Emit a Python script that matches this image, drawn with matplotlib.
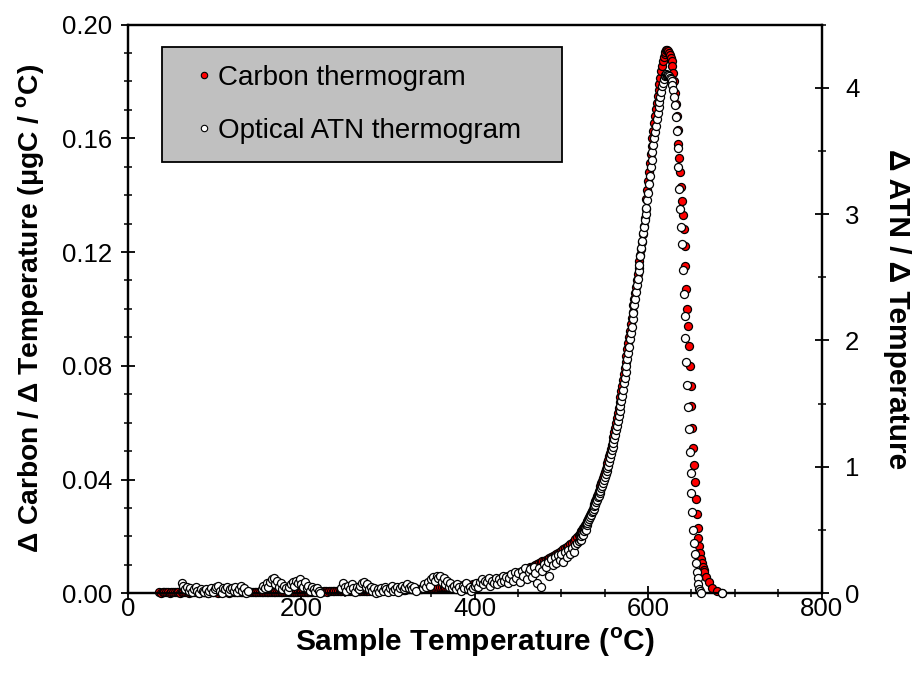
import matplotlib
matplotlib.use("Agg")
import matplotlib.pyplot as plt
from matplotlib.ticker import MultipleLocator, FormatStrFormatter
from matplotlib.lines import Line2D

nan = float("nan")

# sample temperature (C) - low part, every 2 C
temp_low = [
    36, 38, 40, 42, 44, 46, 48, 50, 52, 54, 56, 58, 60, 62, 64, 66, 68, 70, 72, 74,
    76, 78, 80, 82, 84, 86, 88, 90, 92, 94, 96, 98, 100, 102, 104, 106, 108, 110, 112, 114,
    116, 118, 120, 122, 124, 126, 128, 130, 132, 134, 136, 138, 140, 142, 144, 146, 148, 150, 152, 154,
    156, 158, 160, 162, 164, 166, 168, 170, 172, 174, 176, 178, 180, 182, 184, 186, 188, 190, 192, 194,
    196, 198, 200, 202, 204, 206, 208, 210, 212, 214, 216, 218, 220, 222, 224, 226, 228, 230, 232, 234,
    236, 238, 240, 242, 244, 246, 248, 250, 252, 254, 256, 258, 260, 262, 264, 266, 268, 270, 272, 274,
    276, 278, 280, 282, 284, 286, 288, 290, 292, 294, 296, 298, 300, 302, 304, 306, 308, 310, 312, 314,
    316, 318, 320, 322, 324, 326, 328, 330, 332, 334, 336, 338, 340, 342, 344, 346, 348, 350, 352, 354,
    356, 358, 360, 362, 364, 366, 368, 370, 372, 374, 376, 378, 380, 382, 384, 386, 388, 390, 392, 394,
    396, 398, 400, 402, 404, 406, 408, 410, 412, 414, 416, 418, 420, 422, 424, 426, 428, 430, 432, 434,
    436, 438, 440, 442, 444, 446, 448, 450, 452, 454, 456, 458, 460, 462, 464, 466, 468, 470, 472, 474,
    476, 478, 480, 482, 484, 486, 488, 490, 492, 494, 496, 498, 500, 502, 504, 506, 508, 510, 512, 514,
    516, 518,
]

# carbon thermogram (ugC / C), left axis
carbon_low = [
    0.0003, 0.0002, 0.0003, 0.0003, 0.0004, 0.0003, 0.0002, 0.0003, 0.0003, 0.0004, 0.0003, 0.0003, 0.0002, 0.0003, 0.0004, 0.0003, 0.0003, 0.0002, 0.0003, 0.0004,
    0.0003, 0.0003, 0.0003, 0.0002, 0.0003, 0.0004, 0.0003, 0.0003, 0.0002, 0.0003, 0.0004, 0.0003, 0.0003, 0.0003, 0.0002, 0.0003, 0.0004, 0.0003, 0.0003, 0.0003,
    0.0002, 0.0003, 0.0004, 0.0003, 0.0003, 0.0003, 0.0004, 0.0003, 0.0003, 0.0004, 0.0003, 0.0004, 0.0003, 0.0004, 0.0004, 0.0003, 0.0004, 0.0004, 0.0004, 0.0005,
    0.0004, 0.0004, 0.0005, 0.0004, 0.0004, 0.0005, 0.0004, 0.0005, 0.0004, 0.0004, 0.0005, 0.0005, 0.0004, 0.0005, 0.0005, 0.0004, 0.0005, 0.0005, 0.0005, 0.0005,
    0.0005, 0.0005, 0.0006, 0.0005, 0.0006, 0.0006, 0.0005, 0.0006, 0.0006, 0.0006, 0.0007, 0.0006, 0.0006, 0.0007, 0.0006, 0.0007, 0.0007, 0.0006, 0.0007, 0.0007,
    0.0007, 0.0007, 0.0008, 0.0007, 0.0007, 0.0008, 0.0008, 0.0007, 0.0008, 0.0008, 0.0008, 0.0008, 0.0009, 0.0008, 0.0008, 0.0009, 0.0009, 0.0008, 0.0009, 0.0009,
    0.0009, 0.0009, 0.0010, 0.0009, 0.0010, 0.0010, 0.0010, 0.0010, 0.0011, 0.0010, 0.0011, 0.0011, 0.0011, 0.0011, 0.0012, 0.0011, 0.0012, 0.0012, 0.0012, 0.0013,
    0.0013, 0.0013, 0.0013, 0.0014, 0.0014, 0.0014, 0.0015, 0.0015, 0.0015, 0.0016, 0.0016, 0.0016, 0.0017, 0.0017, 0.0018, 0.0018, 0.0018, 0.0019, 0.0019, 0.0020,
    0.0020, 0.0021, 0.0021, 0.0022, 0.0022, 0.0023, 0.0023, 0.0024, 0.0024, 0.0025, 0.0025, 0.0026, 0.0026, 0.0027, 0.0027, 0.0028, 0.0028, 0.0029, 0.0029, 0.0030,
    0.0030, 0.0031, 0.0032, 0.0033, 0.0034, 0.0035, 0.0036, 0.0037, 0.0039, 0.0040, 0.0041, 0.0043, 0.0044, 0.0046, 0.0047, 0.0049, 0.0050, 0.0052, 0.0054, 0.0056,
    0.0058, 0.0060, 0.0062, 0.0064, 0.0066, 0.0068, 0.0071, 0.0073, 0.0075, 0.0078, 0.0080, 0.0083, 0.0086, 0.0089, 0.0091, 0.0094, 0.0097, 0.0100, 0.0103, 0.0106,
    0.0109, 0.0112, 0.0115, 0.0118, 0.0122, 0.0125, 0.0128, 0.0132, 0.0135, 0.0139, 0.0143, 0.0146, 0.0150, 0.0154, 0.0158, 0.0163, 0.0167, 0.0172, 0.0178, 0.0184,
    0.0190, 0.0197,
]

# optical ATN thermogram, right axis (nan = no reading)
optical_low = [
    nan, nan, nan, nan, nan, nan, nan, nan, nan, nan, nan, nan, nan, 0.08, 0.06, 0.03, 0.05, 0.02, 0.04, 0.01,
    0.03, 0.05, 0.02, 0.00, 0.03, 0.02, 0.01, 0.03, 0.00, 0.02, 0.04, 0.01, 0.03, 0.05, 0.06, 0.02, 0.00, 0.04, 0.03, 0.05,
    0.01, 0.03, 0.04, 0.02, 0.05, 0.01, 0.03, 0.06, 0.02, 0.04, 0.00, 0.02, nan, nan, nan, nan, nan, nan, nan, 0.03,
    0.06, 0.04, 0.08, 0.05, 0.09, 0.11, 0.12, 0.07, 0.10, 0.05, 0.08, 0.03, 0.06, 0.04, 0.02, 0.05, 0.07, 0.09, 0.06, 0.10,
    0.08, 0.11, 0.07, 0.05, 0.09, 0.04, 0.06, 0.02, 0.05, 0.03, 0.01, 0.04, 0.02, 0.00, nan, nan, nan, nan, nan, nan,
    nan, nan, nan, nan, nan, 0.04, 0.08, 0.05, 0.02, 0.06, 0.03, 0.07, 0.04, 0.01, 0.05, 0.03, 0.06, 0.08, 0.09, 0.05,
    0.07, 0.03, 0.05, 0.02, 0.04, 0.00, 0.03, 0.01, 0.04, 0.02, 0.05, 0.03, 0.01, 0.04, 0.06, 0.02, 0.03, 0.05, 0.01, 0.04,
    0.06, 0.03, 0.05, 0.07, 0.04, 0.06, 0.03, 0.05, 0.02, nan, nan, nan, 0.04, 0.07, 0.05, 0.09, 0.06, 0.11, 0.13, 0.10,
    0.14, 0.12, 0.14, 0.09, 0.12, 0.07, 0.10, 0.05, 0.08, 0.04, 0.06, 0.03, 0.07, 0.05, 0.02, 0.06, 0.04, 0.08, 0.03, 0.05,
    0.02, 0.04, 0.06, 0.08, 0.05, 0.09, 0.11, 0.07, 0.10, 0.09, 0.12, 0.06, 0.10, 0.08, 0.12, 0.07, 0.11, 0.09, 0.14, 0.10,
    0.13, 0.08, 0.12, 0.15, 0.10, 0.17, 0.12, 0.16, 0.09, 0.18, 0.14, 0.20, 0.11, 0.17, 0.19, 0.13, 0.21, 0.16, 0.08, 0.20,
    0.05, 0.18, 0.23, 0.21, 0.25, 0.14, 0.27, 0.22, 0.29, 0.24, 0.30, 0.26, 0.31, 0.25, 0.33, 0.29, 0.34, 0.31, 0.36, 0.33,
    0.38, 0.40,
]

# high part, every 1 C, plus the tail
temp_high = [
    520, 521, 522, 523, 524, 525, 526, 527, 528, 529, 530, 531, 532, 533, 534, 535, 536, 537, 538, 539,
    540, 541, 542, 543, 544, 545, 546, 547, 548, 549, 550, 551, 552, 553, 554, 555, 556, 557, 558, 559,
    560, 561, 562, 563, 564, 565, 566, 567, 568, 569, 570, 571, 572, 573, 574, 575, 576, 577, 578, 579,
    580, 581, 582, 583, 584, 585, 586, 587, 588, 589, 590, 591, 592, 593, 594, 595, 596, 597, 598, 599,
    600, 601, 602, 603, 604, 605, 606, 607, 608, 609, 610, 611, 612, 613, 614, 615, 616, 617, 618, 619,
    620, 621, 622, 623, 624, 625, 626, 627, 628, 629, 630, 631, 632, 633, 634, 635, 636, 637, 638, 639,
    640, 641, 642, 643, 644, 645, 646, 647, 648, 649, 650, 651, 652, 653, 654, 655, 656, 657, 658, 659,
    660, 661, 662, 663, 664, 665, 667, 670, 674, 679, 685,
]

carbon_high = [
    0.0205, 0.0209, 0.0214, 0.0219, 0.0224, 0.0229, 0.0234, 0.0239, 0.0244, 0.0249, 0.0255, 0.0261, 0.0268, 0.0275, 0.0282, 0.0290, 0.0298, 0.0306, 0.0315, 0.0323,
    0.0332, 0.0341, 0.0350, 0.0359, 0.0368, 0.0377, 0.0387, 0.0396, 0.0406, 0.0416, 0.0426, 0.0436, 0.0447, 0.0458, 0.0470, 0.0482, 0.0495, 0.0508, 0.0522, 0.0536,
    0.0550, 0.0566, 0.0582, 0.0599, 0.0616, 0.0634, 0.0652, 0.0671, 0.0690, 0.0710, 0.0730, 0.0751, 0.0772, 0.0793, 0.0815, 0.0836, 0.0858, 0.0880, 0.0902, 0.0924,
    0.0946, 0.0968, 0.0990, 0.1012, 0.1034, 0.1056, 0.1078, 0.1100, 0.1122, 0.1145, 0.1168, 0.1190, 0.1212, 0.1236, 0.1262, 0.1290, 0.1320, 0.1352, 0.1385, 0.1418,
    0.1450, 0.1482, 0.1513, 0.1543, 0.1572, 0.1600, 0.1627, 0.1653, 0.1678, 0.1702, 0.1725, 0.1748, 0.1770, 0.1792, 0.1813, 0.1835, 0.1855, 0.1872, 0.1886, 0.1897,
    0.1905, 0.1910, 0.1910, 0.1906, 0.1900, 0.1892, 0.1882, 0.1870, 0.1855, 0.1830, 0.1800, 0.1760, 0.1720, 0.1680, 0.1630, 0.1580, 0.1530, 0.1480, 0.1430, 0.1380,
    0.1330, 0.1280, 0.1220, 0.1150, 0.1070, 0.1000, 0.0940, 0.0870, 0.0800, 0.0730, 0.0660, 0.0580, 0.0510, 0.0450, 0.0390, 0.0330, 0.0280, 0.0230, 0.0195, 0.0165,
    0.0140, 0.0120, 0.0105, 0.0093, 0.0083, 0.0074, 0.0059, 0.0040, 0.0020, 0.0007, 0.0001,
]

optical_high = [
    0.41, 0.43, 0.42, 0.45, 0.47, 0.46, 0.49, 0.51, 0.50, 0.54, 0.56, 0.57, 0.59, 0.60, 0.62, 0.64, 0.65, 0.67, 0.69, 0.70,
    0.72, 0.74, 0.76, 0.77, 0.79, 0.81, 0.83, 0.85, 0.87, 0.90, 0.92, 0.94, 0.97, 0.99, 1.01, 1.04, 1.07, 1.10, 1.13, 1.16,
    1.19, 1.22, 1.25, 1.29, 1.32, 1.36, 1.40, 1.44, 1.48, 1.52, 1.56, 1.61, 1.66, 1.70, 1.75, 1.80, 1.85, 1.90, 1.95, 2.01,
    2.06, 2.11, 2.17, 2.22, 2.28, 2.33, 2.38, 2.44, 2.49, 2.55, 2.60, 2.67, 2.73, 2.79, 2.85, 2.90, 2.95, 3.00, 3.05, 3.11,
    3.17, 3.24, 3.30, 3.37, 3.43, 3.49, 3.55, 3.60, 3.65, 3.70, 3.75, 3.80, 3.85, 3.89, 3.93, 3.97, 4.01, 4.04, 4.07, 4.09,
    4.10, 4.11, 4.10, 4.10, 4.09, 4.08, 4.07, 4.05, 4.02, 3.98, 3.93, 3.86, 3.77, 3.66, 3.52, 3.37, 3.20, 3.04, 2.90, 2.76,
    2.56, 2.37, 2.19, 2.02, 1.83, 1.65, 1.47, 1.30, 1.12, 0.95, 0.79, 0.64, 0.50, 0.40, 0.31, 0.24, 0.17, 0.12, 0.07, 0.035,
    0.015, 0.0, nan, nan, nan, nan, nan, nan, nan, nan, 0.0,
]

labels = ["Carbon thermogram", "Optical ATN thermogram"]

plt.rcParams["font.family"] = ["Liberation Sans", "DejaVu Sans"]
plt.rcParams["mathtext.fontset"] = "custom"
plt.rcParams["mathtext.rm"] = "Liberation Sans"
plt.rcParams["mathtext.bf"] = "Liberation Sans:bold"

temp = temp_low + temp_high
carbon = carbon_low + carbon_high
optical = optical_low + optical_high

fig = plt.figure(figsize=(9.13, 6.85), dpi=100)
ax = fig.add_axes([0.1402, 0.1339, 0.7596, 0.8303])
ax2 = ax.twinx()

ax.plot(temp, carbon, "o", ms=5.8, mfc="#ff0000", mec="black", mew=0.9,
        clip_on=False, zorder=3)
ax2.plot(temp, optical, "o", ms=5.8, mfc="white", mec="black", mew=0.9,
         clip_on=False, zorder=3)

ax.set_xlim(0, 800)
ax.set_ylim(0, 0.2)
ax2.set_ylim(0, 4.5)

ax.xaxis.set_major_locator(MultipleLocator(200))
ax.xaxis.set_minor_locator(MultipleLocator(50))
ax.yaxis.set_major_locator(MultipleLocator(0.04))
ax.yaxis.set_minor_locator(MultipleLocator(0.01))
ax.yaxis.set_major_formatter(FormatStrFormatter("%.2f"))
ax2.yaxis.set_major_locator(MultipleLocator(1))
ax2.yaxis.set_minor_locator(MultipleLocator(0.5))
ax2.yaxis.set_major_formatter(FormatStrFormatter("%d"))

for a in (ax, ax2):
    a.tick_params(which="major", direction="inout", length=10, width=1.3,
                  labelsize=18.5)
    a.tick_params(which="minor", direction="inout", length=6, width=1.1)
    for s in a.spines.values():
        s.set_linewidth(1.6)
ax.tick_params(axis="x", which="major", pad=-2)
ax.tick_params(axis="y", which="major", pad=6.5)
ax2.tick_params(axis="y", which="major", pad=12)

ax.set_xlabel("Sample Temperature ($^{\\mathbf{o}}$C)", fontsize=21.5,
              fontweight="bold", labelpad=3)
ax.set_ylabel("\u0394 Carbon / \u0394 Temperature (\u03bcgC / $^{\\mathbf{o}}$C)",
              fontsize=20.3, fontweight="bold", labelpad=11)
ax2.set_ylabel("\u0394 ATN / \u0394 Temperature", fontsize=21.5,
               fontweight="bold", rotation=270, va="bottom", labelpad=17)

handles = [
    Line2D([], [], ls="none", marker="o", ms=4.6, mfc="#ff0000", mec="black", mew=0.8),
    Line2D([], [], ls="none", marker="o", ms=4.6, mfc="white", mec="black", mew=0.8),
]
leg = ax2.legend(handles, labels, loc="upper left",
                 bbox_to_anchor=(0.0489, 0.3, 0.5776, 0.6613), mode="expand",
                 borderaxespad=0, fontsize=20, frameon=True, fancybox=False,
                 facecolor="#c0c0c0", edgecolor="black", framealpha=1,
                 borderpad=0.67, labelspacing=0.95, handlelength=1.7,
                 handletextpad=-0.35)
leg.get_frame().set_linewidth(1.3)

fig.savefig("out.png", dpi=100)
